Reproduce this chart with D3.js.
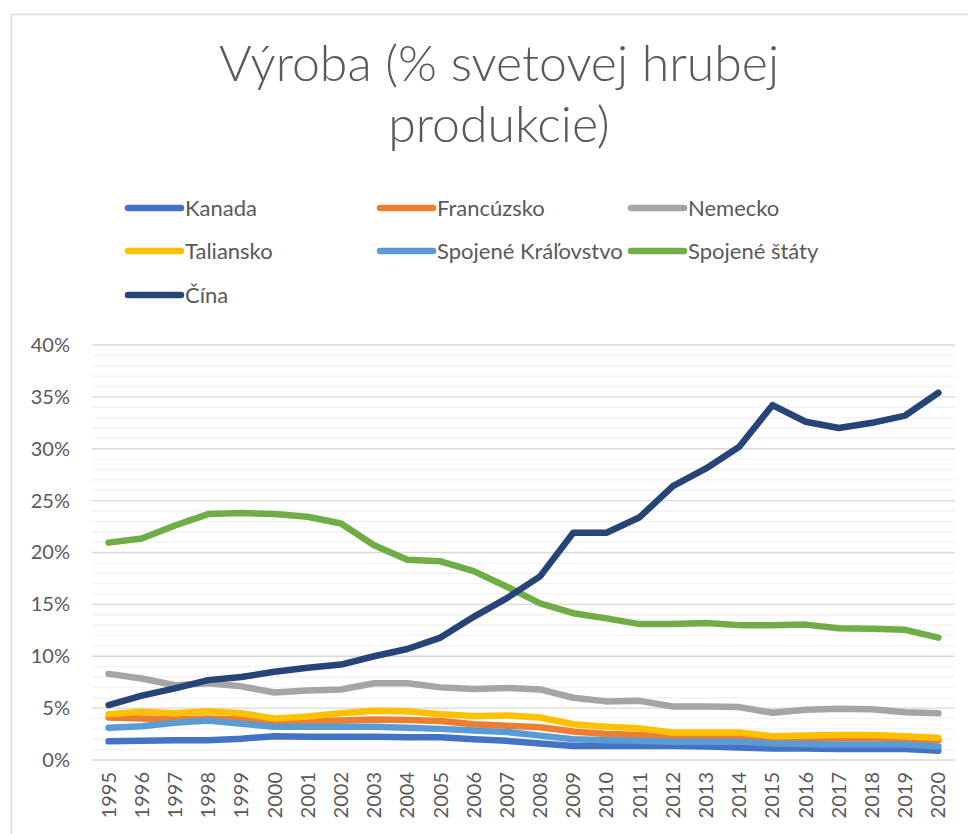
<!DOCTYPE html>
<html>
<head>
<meta charset="utf-8">
<script src="https://cdn.jsdelivr.net/npm/d3@7"></script>
<style>
  html, body { margin: 0; padding: 0; background: #fff; }
  svg { display: block; font-family: Lato, "Open Sans", sans-serif; }
</style>
</head>
<body>
<svg id="chart"></svg>
<script>
// Chart size
const width = 968;
const height = 834;
const margin = { top: 345, right: 13, bottom: 74, left: 92 };

// Data
const years = d3.range(1995, 2021).map(String);
const seriesNames = ["Kanada", "Francúzsko", "Nemecko", "Taliansko", "Spojené Kráľovstvo", "Spojené štáty", "Čína"];
const colors = ["#4472C4", "#ED7D31", "#A5A5A5", "#FFC000", "#5B9BD5", "#70AD47", "#264478"];

const kanada = [1.8, 1.85, 1.9, 1.9, 2.05, 2.3, 2.25, 2.25, 2.25, 2.2, 2.2, 2.0, 1.85, 1.6, 1.35, 1.35, 1.35, 1.35, 1.3, 1.2, 1.1, 1.1, 1.05, 1.05, 1.05, 0.9];
const francuzsko = [4.1, 4.0, 3.9, 4.0, 3.9, 3.7, 3.7, 3.8, 3.9, 3.85, 3.75, 3.45, 3.3, 3.15, 2.75, 2.5, 2.4, 2.2, 2.3, 2.3, 2.15, 2.1, 2.1, 2.1, 2.0, 1.9];
const nemecko = [8.3, 7.85, 7.2, 7.4, 7.1, 6.5, 6.7, 6.8, 7.4, 7.4, 7.0, 6.85, 6.95, 6.8, 6.0, 5.65, 5.7, 5.15, 5.15, 5.1, 4.55, 4.85, 4.95, 4.9, 4.6, 4.5];
const taliansko = [4.4, 4.65, 4.5, 4.7, 4.5, 4.0, 4.2, 4.5, 4.75, 4.7, 4.4, 4.25, 4.3, 4.1, 3.45, 3.2, 3.05, 2.65, 2.65, 2.65, 2.3, 2.35, 2.4, 2.4, 2.3, 2.15];
const spojeneKralovstvo = [3.1, 3.25, 3.6, 3.8, 3.5, 3.2, 3.2, 3.2, 3.2, 3.1, 3.0, 2.85, 2.7, 2.35, 2.0, 1.9, 1.85, 1.75, 1.75, 1.75, 1.6, 1.55, 1.5, 1.5, 1.5, 1.3];
const spojeneStaty = [20.95, 21.35, 22.6, 23.7, 23.8, 23.7, 23.45, 22.8, 20.7, 19.3, 19.15, 18.2, 16.7, 15.1, 14.15, 13.65, 13.1, 13.1, 13.2, 13.0, 13.0, 13.05, 12.7, 12.65, 12.55, 11.8];
const cina = [5.3, 6.2, 6.9, 7.7, 8.0, 8.5, 8.9, 9.2, 10.0, 10.7, 11.8, 13.8, 15.6, 17.7, 21.9, 21.9, 23.4, 26.4, 28.1, 30.2, 34.2, 32.6, 32.0, 32.5, 33.2, 35.4];

const seriesValues = [kanada, francuzsko, nemecko, taliansko, spojeneKralovstvo, spojeneStaty, cina];
const yTicks = [0, 5, 10, 15, 20, 25, 30, 35, 40];
const titleLines = ["Výroba (% svetovej hrubej", "produkcie)"];

const textColor = "#595959";

const svg = d3.select("#chart")
    .attr("width", width)
    .attr("height", height);

// Chart border
svg.append("rect")
    .attr("x", 11.5)
    .attr("y", 14.5)
    .attr("width", width + 20)
    .attr("height", height + 20)
    .attr("fill", "none")
    .attr("stroke", "#d9d9d9")
    .attr("stroke-width", 1.5);

// Scales
const xScale = d3.scaleBand()
    .domain(years)
    .range([margin.left, width - margin.right]);

const yScale = d3.scaleLinear()
    .domain([0, 40])
    .range([height - margin.bottom, margin.top]);

// Minor + major gridlines
svg.append("g")
    .selectAll("line")
    .data(d3.range(0, 41).filter(d => d % 5 !== 0))
    .join("line")
    .attr("x1", margin.left)
    .attr("x2", width - margin.right)
    .attr("y1", d => yScale(d))
    .attr("y2", d => yScale(d))
    .attr("stroke", "#f2f2f2")
    .attr("stroke-width", 1.3);

svg.append("g")
    .selectAll("line")
    .data(yTicks)
    .join("line")
    .attr("x1", margin.left)
    .attr("x2", width - margin.right)
    .attr("y1", d => yScale(d))
    .attr("y2", d => yScale(d))
    .attr("stroke", "#d9d9d9")
    .attr("stroke-width", 1.3);

// Y axis
const yAxis = d3.axisLeft(yScale)
    .tickValues(yTicks)
    .tickFormat(d => d + "%")
    .tickSize(0)
    .tickPadding(22);

svg.append("g")
    .attr("id", "y-axis")
    .attr("transform", `translate(${margin.left}, 0)`)
    .call(yAxis)
    .call(g => g.select(".domain").remove())
    .selectAll("text")
    .attr("fill", textColor)
    .attr("font-size", 20)
    .attr("font-family", "Lato, sans-serif");

// X axis
const xAxis = d3.axisBottom(xScale).tickSize(0).tickPadding(0);

svg.append("g")
    .attr("id", "x-axis")
    .attr("transform", `translate(0, ${height - margin.bottom})`)
    .call(xAxis)
    .call(g => g.select(".domain").remove())
    .selectAll("text")
    .attr("fill", textColor)
    .attr("font-size", 20)
    .attr("font-family", "Lato, sans-serif")
    .attr("text-anchor", "end")
    .attr("dy", "0.35em")
    .attr("transform", "translate(0, 12) rotate(-90)")
    .attr("y", 0)
    .attr("x", 0);

// Lines
const line = d3.line()
    .x((d, i) => xScale(years[i]) + xScale.bandwidth() / 2)
    .y(d => yScale(d));

svg.append("g")
    .selectAll("path")
    .data(seriesValues)
    .join("path")
    .attr("d", d => line(d))
    .attr("fill", "none")
    .attr("stroke", (d, i) => colors[i])
    .attr("stroke-width", 6.5)
    .attr("stroke-linecap", "round")
    .attr("stroke-linejoin", "round");

// Title
svg.append("g")
    .selectAll("text")
    .data(titleLines)
    .join("text")
    .attr("x", 499)
    .attr("y", (d, i) => 81 + i * 61)
    .attr("text-anchor", "middle")
    .attr("fill", textColor)
    .attr("font-size", 50)
    .attr("font-weight", 300)
    .text(d => d);

// Legend
const legendX = [125, 377, 628];
const legendY = [208, 251, 295];
const legend = svg.append("g")
    .selectAll("g")
    .data(seriesNames)
    .join("g")
    .attr("transform", (d, i) => `translate(${legendX[i % 3]}, ${legendY[Math.floor(i / 3)]})`);

legend.append("line")
    .attr("x1", 3)
    .attr("x2", 56)
    .attr("stroke", (d, i) => colors[i])
    .attr("stroke-width", 6.5)
    .attr("stroke-linecap", "round");

legend.append("text")
    .attr("x", 60)
    .attr("dy", "0.35em")
    .attr("fill", textColor)
    .attr("font-size", 22)
    .text(d => d);
</script>
</body>
</html>
